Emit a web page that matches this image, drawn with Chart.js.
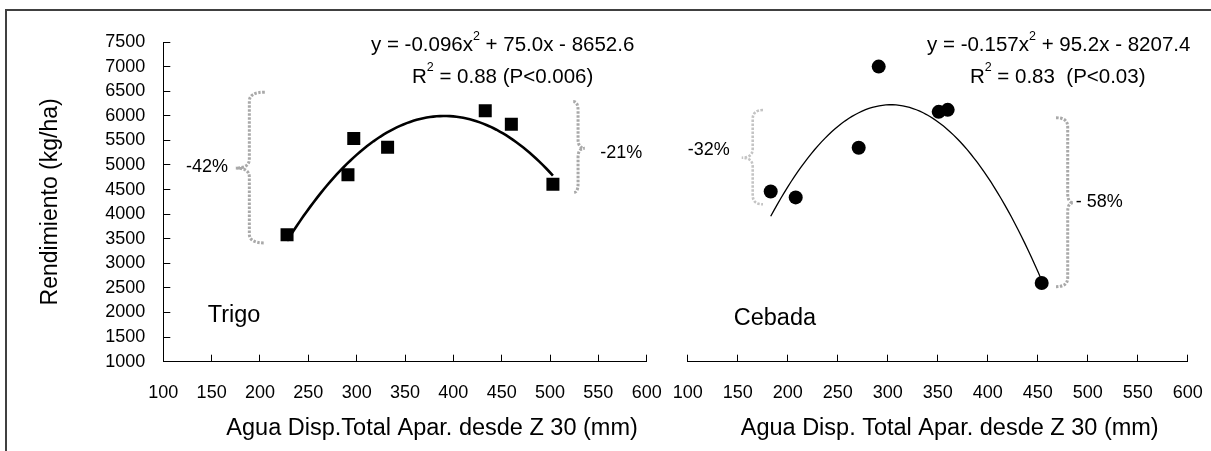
<!DOCTYPE html>
<html>
<head>
<meta charset="utf-8">
<script src="https://cdn.jsdelivr.net/npm/chart.js@4.4.0/dist/chart.umd.min.js"></script>
<style>
	body { margin: 0; background: #fff; width: 1211px; height: 451px; overflow: hidden; position: relative; }
	#marco { position: absolute; left: 5px; top: 9px; width: 1300px; height: 500px; border: 2px solid #404040; }
	.panel { position: absolute; top: 0; height: 451px; }
	#panel_trigo { left: 0; width: 667px; }
	#panel_cebada { left: 667px; width: 544px; }
</style>
</head>
<body>
<div id="marco"></div>
<div class="panel" id="panel_trigo"><canvas id="chart_trigo"></canvas></div>
<div class="panel" id="panel_cebada"><canvas id="chart_cebada"></canvas></div>
<script>
// agua disponible (mm) y rendimiento (kg/ha)
var agua_trigo = [228, 291, 297, 332, 433, 460, 503];
var rend_trigo = [3580, 4800, 5540, 5360, 6100, 5830, 4610];
var agua_cebada = [183, 208, 271, 291, 351, 360, 454];
var rend_cebada = [4460, 4340, 5350, 7000, 6080, 6120, 2600];

var ticks_agua = [100, 150, 200, 250, 300, 350, 400, 450, 500, 550, 600];
var ticks_rend = [1000, 1500, 2000, 2500, 3000, 3500, 4000, 4500, 5000, 5500, 6000, 6500, 7000, 7500];

// coeficientes de la regresion: y = a*x^2 + b*x + c
var ajuste_trigo = [-0.096, 75.0, -8652.6];
var ajuste_cebada = [-0.157, 95.2, -8207.4];

var FUENTE = '"Liberation Sans", Arial, sans-serif';

function puntos(xs, ys) {
	return xs.map(function (x, i) { return { x: x, y: ys[i] }; });
}

function curva(coef, desde, hasta) {
	var pts = [];
	var paso = (hasta - desde) / 80;
	for (var i = 0; i <= 80; i++) {
		var x = desde + i * paso;
		pts.push({ x: x, y: coef[0] * x * x + coef[1] * x + coef[2] });
	}
	return pts;
}

// llaves punteadas, ecuaciones, etiquetas y titulo del eje x
var notas = {
	id: 'notas',
	afterDatasetsDraw: function (chart, args, opts) {
		var ctx = chart.ctx;
		var sx = chart.scales.x, sy = chart.scales.y;
		ctx.save();
		(opts.llaves || []).forEach(function (l) {
			var x = sx.getPixelForValue(l.x), punta = sx.getPixelForValue(l.punta), pico = sx.getPixelForValue(l.pico);
			var top = sy.getPixelForValue(l.arriba), mid = sy.getPixelForValue(l.medio), bot = sy.getPixelForValue(l.abajo);
			var r = 9;
			ctx.beginPath();
			ctx.moveTo(punta, top);
			ctx.quadraticCurveTo(x, top, x, top + r);
			ctx.lineTo(x, mid - r);
			ctx.quadraticCurveTo(x, mid, pico, mid);
			ctx.quadraticCurveTo(x, mid, x, mid + r);
			ctx.lineTo(x, bot - r);
			ctx.quadraticCurveTo(x, bot, punta, bot);
			ctx.setLineDash([2.5, 1.5]);
			ctx.lineWidth = l.ancho;
			ctx.strokeStyle = l.color;
			ctx.stroke();
		});
		ctx.setLineDash([]);
		ctx.fillStyle = '#000';
		ctx.textBaseline = 'middle';
		(opts.textos || []).forEach(function (t) {
			var px = sx.getPixelForValue(t.x);
			var py = t.bajoEje !== undefined ? chart.chartArea.bottom + t.bajoEje : sy.getPixelForValue(t.y);
			var partes = t.partes;
			var anchos = partes.map(function (p, i) {
				ctx.font = (i % 2 ? 12.5 : t.tam) + 'px ' + FUENTE;
				return ctx.measureText(p).width;
			});
			var total = anchos.reduce(function (a, b) { return a + b; }, 0);
			var x0 = t.alinea === 'center' ? px - total / 2 : (t.alinea === 'right' ? px - total : px);
			ctx.textAlign = 'left';
			partes.forEach(function (p, i) {
				ctx.font = (i % 2 ? 12.5 : t.tam) + 'px ' + FUENTE;
				ctx.fillText(p, x0, i % 2 ? py - 9 : py);
				x0 += anchos[i];
			});
		});
		ctx.restore();
	}
};
Chart.register(notas);

function ejeX() {
	return {
		type: 'linear',
		min: ticks_agua[0],
		max: ticks_agua[ticks_agua.length - 1],
		afterBuildTicks: function (s) { s.ticks = ticks_agua.map(function (v) { return { value: v }; }); },
		afterFit: function (s) {
			s.height = 89.3;
			s.paddingLeft = 0;
			s.paddingRight = 0;
		},
		grid: { drawOnChartArea: false, tickLength: -7, color: '#000', lineWidth: 1 },
		border: { color: '#000', width: 1 },
		ticks: { padding: 28, color: '#000', font: { family: FUENTE, size: 18 }, maxRotation: 0, autoSkip: false }
	};
}

function ejeY(visible) {
	return {
		display: visible,
		min: ticks_rend[0],
		max: ticks_rend[ticks_rend.length - 1],
		afterBuildTicks: function (s) { s.ticks = ticks_rend.map(function (v) { return { value: v }; }); },
		afterFit: function (s) {
			if (visible) s.width = 163.3;
			s.paddingTop = 0;
			s.paddingBottom = 0;
		},
		grid: { drawOnChartArea: false, tickLength: -7, color: '#000', lineWidth: 1 },
		border: { color: '#000', width: 1 },
		ticks: {
			padding: 25,
			color: '#000',
			font: { family: FUENTE, size: 18 },
			autoSkip: false,
			callback: function (v) { return String(v); }
		},
		title: { display: true, text: 'Rendimiento (kg/ha)', color: '#000', font: { family: FUENTE, size: 23 }, padding: { top: 37, bottom: 0 } }
	};
}

var chart_trigo = new Chart(
	document.getElementById('chart_trigo'),
	{
		type: 'scatter',
		data: {
			datasets: [
				{
					label: 'Trigo',
					data: puntos(agua_trigo, rend_trigo),
					pointStyle: 'rect',
					pointRadius: 9.2,
					borderWidth: 0,
					backgroundColor: '#000',
					borderColor: '#000',
				},
				{
					label: 'Ajuste trigo',
					data: curva(ajuste_trigo, Math.min.apply(null, agua_trigo), Math.max.apply(null, agua_trigo)),
					showLine: true,
					pointRadius: 0,
					borderColor: '#000',
					borderWidth: 2.6,
				}
			]
		},
		options: {
			responsive: true,
			maintainAspectRatio: false,
			animation: false,
			layout: { padding: { left: 0, top: 42, right: 20.3, bottom: 0 } },
			plugins: {
				legend: { display: false },
				tooltip: { enabled: false },
				notas: {
					llaves: [
						{ x: 189, punta: 205, pico: 175, arriba: 6480, medio: 4937, abajo: 3413, color: '#a9a9a9', ancho: 3 },
						{ x: 529, punta: 524, pico: 536, arriba: 6290, medio: 5339, abajo: 4436, color: '#a9a9a9', ancho: 3 }
					],
					textos: [
						{ x: 451, y: 7431, alinea: 'center', tam: 20.5, partes: ['y = -0.096x', '2', ' + 75.0x - 8652.6'] },
						{ x: 451, y: 6790, alinea: 'center', tam: 20.5, partes: ['R', '2', ' = 0.88 (P<0.006)'] },
						{ x: 167, y: 4959, alinea: 'right', tam: 18, partes: ['-42%'] },
						{ x: 552, y: 5244, alinea: 'left', tam: 18, partes: ['-21%'] },
						{ x: 146, y: 1929, alinea: 'left', tam: 23.5, partes: ['Trigo'] },
						{ x: 378, bajoEje: 66.5, alinea: 'center', tam: 23.5, partes: ['Agua Disp.Total Apar. desde Z 30 (mm)'] }
					]
				}
			},
			scales: {
				x: ejeX(),
				y: ejeY(true)
			}
		}
	}
);

var chart_cebada = new Chart(
	document.getElementById('chart_cebada'),
	{
		type: 'scatter',
		data: {
			datasets: [
				{
					label: 'Cebada',
					data: puntos(agua_cebada, rend_cebada),
					pointStyle: 'circle',
					pointRadius: 7,
					borderWidth: 0,
					backgroundColor: '#000',
					borderColor: '#000',
				},
				{
					label: 'Ajuste cebada',
					data: curva(ajuste_cebada, Math.min.apply(null, agua_cebada), Math.max.apply(null, agua_cebada)),
					showLine: true,
					pointRadius: 0,
					borderColor: '#000',
					borderWidth: 1.3,
				}
			]
		},
		options: {
			responsive: true,
			maintainAspectRatio: false,
			animation: false,
			layout: { padding: { left: 20.7, top: 42, right: 23.3, bottom: 0 } },
			plugins: {
				legend: { display: false },
				tooltip: { enabled: false },
				notas: {
					llaves: [
						{ x: 165, punta: 175.3, pico: 154, arriba: 6116, medio: 5148, abajo: 4200, color: '#c4c4c4', ancho: 2.6 },
						{ x: 480, punta: 468.3, pico: 485.6, arriba: 5960, medio: 4233, abajo: 2525, color: '#a9a9a9', ancho: 3 }
					],
					textos: [
						{ x: 471, y: 7431, alinea: 'center', tam: 20.5, partes: ['y = -0.157x', '2', ' + 95.2x - 8207.4'] },
						{ x: 470, y: 6790, alinea: 'center', tam: 20.5, partes: ['R', '2', ' = 0.83  (P<0.03)'] },
						{ x: 142, y: 5305, alinea: 'right', tam: 18, partes: ['-32%'] },
						{ x: 488, y: 4247, alinea: 'left', tam: 18, partes: ['- 58%'] },
						{ x: 146, y: 1888, alinea: 'left', tam: 23.5, partes: ['Cebada'] },
						{ x: 362, bajoEje: 66.5, alinea: 'center', tam: 23.5, partes: ['Agua Disp. Total Apar. desde Z 30 (mm)'] }
					]
				}
			},
			scales: {
				x: ejeX(),
				y: ejeY(false)
			}
		}
	}
);
</script>
</body>
</html>
